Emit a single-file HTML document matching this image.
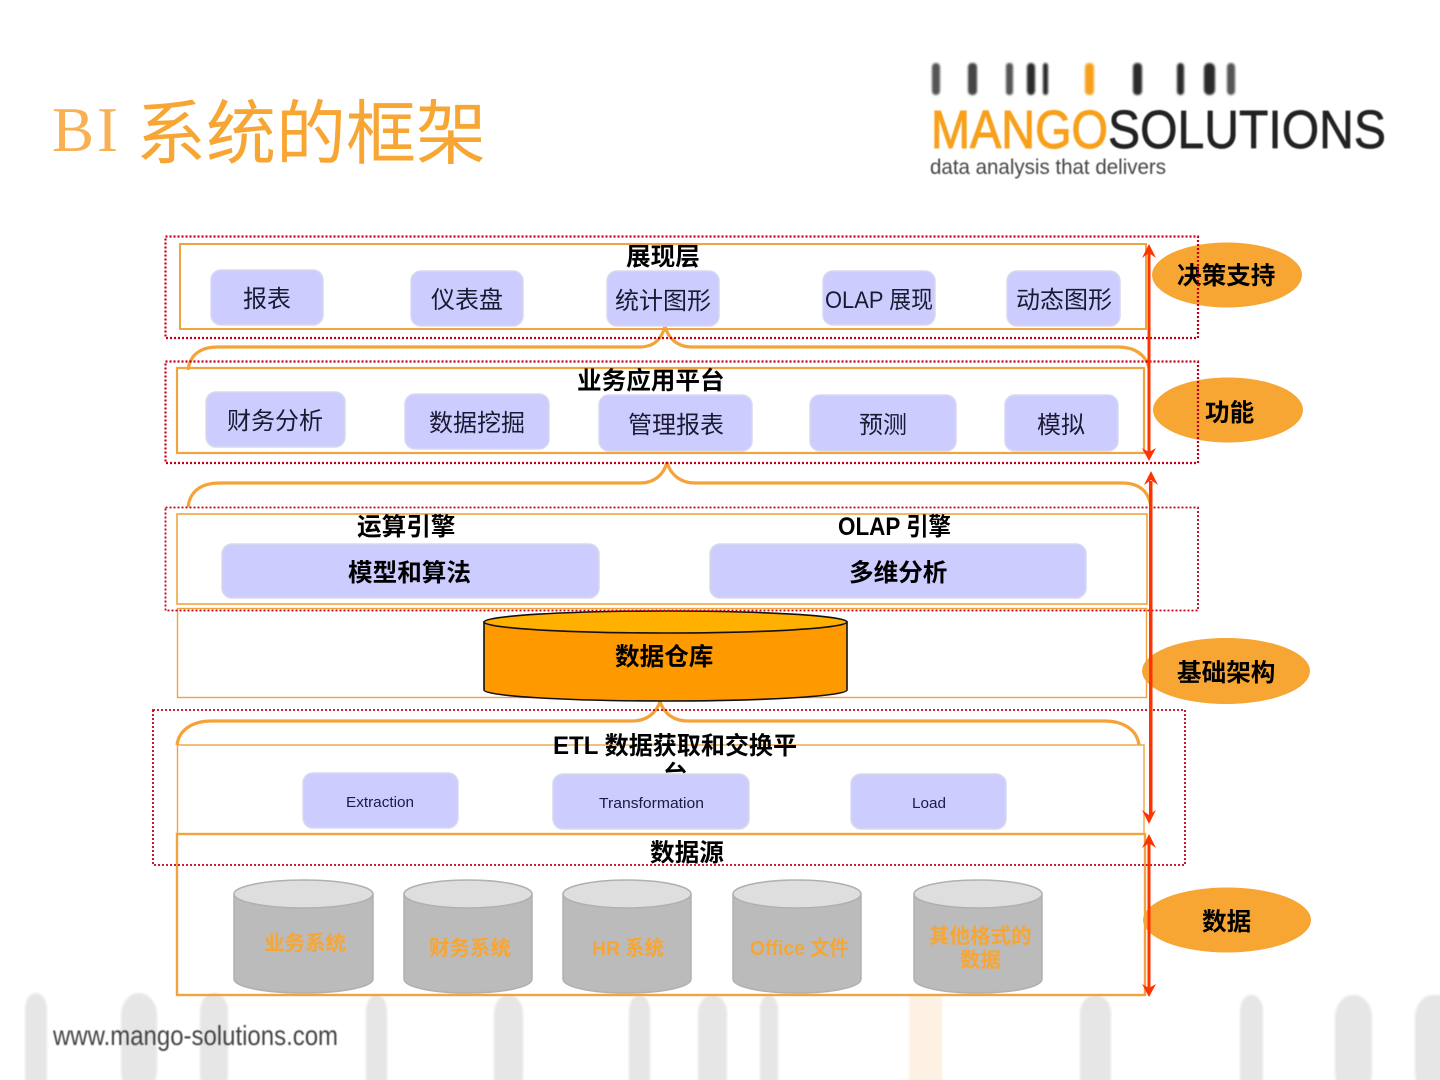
<!DOCTYPE html>
<html lang="zh"><head><meta charset="utf-8"><title>BI 系统的框架</title>
<style>
html,body{margin:0;padding:0;background:#fff}
svg{display:block}
text{font-family:"Liberation Sans","Noto Sans CJK SC",sans-serif;white-space:pre}
.r{font-size:24px;fill:#1a1a33}
.b{font-size:24.6px;font-weight:700;fill:#000}
.g{font-size:20.5px;font-weight:700;fill:#f7a533}
.e{font-size:15px;fill:#1a1a44}
.box{fill:#ccccff;stroke:#d8d8ee;stroke-width:1.5}
.or{fill:none;stroke:#f0a440}
.rd{fill:none;stroke:#c00018;stroke-dasharray:2 2}
.br{fill:none;stroke:#f5a338;stroke-width:3.2}
.cb{fill:#bbbbbb;stroke:#b0b0b0;stroke-width:1.5}
.ct{fill:#dedede;stroke:#b0b0b0;stroke-width:1.5}
</style></head><body>
<svg xmlns="http://www.w3.org/2000/svg" width="1440" height="1080" viewBox="0 0 1440 1080">
<defs>
<filter id="bl" x="-50%" y="-10%" width="200%" height="120%"><feGaussianBlur stdDeviation="1"/></filter>
<filter id="bs" x="-5%" y="-20%" width="110%" height="140%"><feGaussianBlur stdDeviation="0.4"/></filter>
</defs>
<rect width="1440" height="1080" fill="#fff"/>

<!-- footer bars -->
<g fill="#e6e6e6" filter="url(#bl)">
<rect x="25" y="993" width="22" height="100" rx="11" ry="16"/>
<rect x="121" y="993" width="36" height="100" rx="18" ry="22"/>
<rect x="200" y="993" width="28" height="100" rx="14" ry="18"/>
<rect x="366" y="995" width="21" height="100" rx="10" ry="16"/>
<rect x="494" y="995" width="29" height="100" rx="14" ry="18"/>
<rect x="629" y="995" width="21" height="100" rx="10" ry="16"/>
<rect x="698" y="995" width="29" height="100" rx="14" ry="18"/>
<rect x="760" y="995" width="18" height="100" rx="9" ry="14"/>
<rect x="909" y="995" width="33" height="100" fill="#fdf1e3"/>
<rect x="1080" y="995" width="31" height="100" rx="15" ry="18"/>
<rect x="1240" y="995" width="23" height="100" rx="11" ry="16"/>
<rect x="1335" y="995" width="37" height="100" rx="18" ry="22"/>
<rect x="1415" y="995" width="40" height="100" rx="18" ry="22"/>
</g>
<text x="53" y="1045" font-size="28" fill="#444" textLength="285" lengthAdjust="spacingAndGlyphs" filter="url(#bs)">www.mango-solutions.com</text>

<!-- title -->
<text x="52" y="151" style="font-family:'Liberation Serif',serif" font-size="63" fill="#f8b052" textLength="66">BI</text>
<text x="136" y="158" font-size="70" fill="#f7a533">系统的框架</text>

<!-- logo -->
<g fill="#2a2a2a" filter="url(#bl)">
<rect x="932" y="63" width="8" height="32" rx="4" fill="#555"/>
<rect x="968" y="63" width="9" height="32" rx="4" fill="#444"/>
<rect x="1006" y="63" width="7" height="32" rx="3" fill="#555"/>
<rect x="1027" y="63" width="8" height="32" rx="4"/>
<rect x="1043" y="63" width="5" height="32" rx="2.5"/>
<rect x="1085" y="63" width="9" height="32" rx="4" fill="#f7a01e"/>
<rect x="1133" y="63" width="9" height="32" rx="4"/>
<rect x="1177" y="63" width="7" height="32" rx="3.5"/>
<rect x="1204" y="63" width="11" height="32" rx="5"/>
<rect x="1227" y="63" width="8" height="32" rx="4" fill="#555"/>
</g>
<g filter="url(#bs)">
<text x="931" y="148" font-size="54" fill="#f7a01e" stroke="#f7a01e" stroke-width="1.1" textLength="177" lengthAdjust="spacingAndGlyphs">MANGO</text>
<text x="1108" y="148" font-size="54" fill="#222" stroke="#222" stroke-width="0.7" textLength="278" lengthAdjust="spacingAndGlyphs">SOLUTIONS</text>
<text x="930" y="174" font-size="21" fill="#444" textLength="236" lengthAdjust="spacingAndGlyphs">data analysis that delivers</text>
</g>

<!-- ellipses -->
<g fill="#f7a533">
<ellipse cx="1227" cy="275" rx="75" ry="32.5"/>
<ellipse cx="1228" cy="410" rx="75" ry="32.5"/>
<ellipse cx="1226" cy="671" rx="84" ry="33"/>
<ellipse cx="1227" cy="920" rx="84" ry="32.5"/>
</g>

<!-- orange frames -->
<rect class="or" x="180" y="244" width="966" height="85" stroke-width="2"/>
<rect class="or" x="177" y="368" width="967" height="85" stroke-width="2.2"/>
<rect class="or" x="177" y="514" width="970" height="90" stroke-width="1.6"/>
<rect class="or" x="177.500" y="608.500" width="969" height="89" stroke-width="1.400"/>
<rect class="or" x="177.500" y="745" width="966.500" height="89" stroke-width="1.400"/>
<rect class="or" x="177" y="834" width="968" height="161" stroke-width="2.4"/>

<!-- braces -->
<path class="br" d="M188 370 C190 355 200 347 218 347 L640 347 C655 347 662 338 665 326 C668 338 677 347 692 347 L1118 347 C1135 347 1146 355 1149 368"/>
<path class="br" d="M188 507 C190 492 200 483 220 483 L640 483 C655 483 664 474 667 462 C670 474 680 483 695 483 L1122 483 C1140 483 1149 492 1151 507"/>
<path class="br" d="M177 745 C179 730 192 721 212 721 L632 721 C648 721 656 712 660 702 C664 712 672 721 688 721 L1104 721 C1124 721 1137 730 1139 745"/>

<!-- boxes -->
<g class="box">
<rect x="211" y="270" width="112" height="55" rx="10"/>
<rect x="411" y="271" width="112" height="55" rx="10"/>
<rect x="607" y="271" width="112" height="55" rx="10"/>
<rect x="823" y="271" width="112" height="54" rx="10"/>
<rect x="1007" y="271" width="113" height="55" rx="10"/>
<rect x="206" y="392" width="139" height="55" rx="10"/>
<rect x="405" y="394" width="144" height="55" rx="10"/>
<rect x="599" y="395" width="153" height="56" rx="10"/>
<rect x="810" y="395" width="146" height="56" rx="10"/>
<rect x="1005" y="395" width="113" height="56" rx="10"/>
<rect x="222" y="544" width="377" height="54" rx="10"/>
<rect x="710" y="544" width="376" height="54" rx="10"/>
</g>

<!-- ETL clipped char drawn before its boxes -->
<text class="b" x="663" y="783">台</text>
<g class="box">
<rect x="303" y="773" width="155" height="55" rx="10"/>
<rect x="553" y="774" width="196" height="55" rx="10"/>
<rect x="851" y="774" width="155" height="55" rx="10"/>
</g>

<!-- warehouse -->
<path d="M484 622 L484 690 C484 696 565 701 665.500 701 C766 701 847 696 847 690 L847 622 Z" fill="#ff9900" stroke="#111" stroke-width="1.6"/>
<ellipse cx="665.500" cy="622" rx="181.500" ry="11" fill="#ffb000" stroke="#111" stroke-width="1.6"/>

<!-- grey cylinders -->
<g>
<path class="cb" d="M234 894 V979 C234 987 265 993 303.500 993 C342 993 373 987 373 979 V894 Z"/><ellipse class="ct" cx="303.500" cy="894" rx="69.500" ry="14"/>
<path class="cb" d="M404 894 V979 C404 987 432 993 468 993 C504 993 532 987 532 979 V894 Z"/><ellipse class="ct" cx="468" cy="894" rx="64" ry="14"/>
<path class="cb" d="M563 894 V979 C563 987 591 993 627 993 C663 993 691 987 691 979 V894 Z"/><ellipse class="ct" cx="627" cy="894" rx="64" ry="14"/>
<path class="cb" d="M733 894 V979 C733 987 761 993 797 993 C833 993 861 987 861 979 V894 Z"/><ellipse class="ct" cx="797" cy="894" rx="64" ry="14"/>
<path class="cb" d="M914 894 V979 C914 987 942 993 978 993 C1014 993 1042 987 1042 979 V894 Z"/><ellipse class="ct" cx="978" cy="894" rx="64" ry="14"/>
</g>

<!-- labels -->
<text class="b" x="626" y="265">展现层</text>
<text class="r" x="243" y="307">报表</text>
<text class="r" x="431" y="308">仪表盘</text>
<text class="r" x="615" y="309">统计图形</text>
<text class="r" x="825" y="308" textLength="108" lengthAdjust="spacingAndGlyphs">OLAP 展现</text>
<text class="r" x="1016" y="308">动态图形</text>

<text class="b" x="577" y="389">业务应用平台</text>
<text class="r" x="227" y="429">财务分析</text>
<text class="r" x="429" y="431">数据挖掘</text>
<text class="r" x="628" y="433">管理报表</text>
<text class="r" x="859" y="433">预测</text>
<text class="r" x="1037" y="433">模拟</text>

<text class="b" x="357" y="535">运算引擎</text>
<text class="b" x="838" y="535" textLength="113" lengthAdjust="spacingAndGlyphs">OLAP 引擎</text>
<text class="b" x="348" y="581">模型和算法</text>
<text class="b" x="849" y="581">多维分析</text>
<text class="b" x="615" y="665">数据仓库</text>

<text class="b" x="553" y="754" textLength="244" lengthAdjust="spacingAndGlyphs">ETL 数据获取和交换平</text>
<text class="e" x="346" y="807" textLength="68" lengthAdjust="spacingAndGlyphs">Extraction</text>
<text class="e" x="599" y="808" textLength="105" lengthAdjust="spacingAndGlyphs">Transformation</text>
<text class="e" x="912" y="808" textLength="34" lengthAdjust="spacingAndGlyphs">Load</text>
<text class="b" x="650" y="861">数据源</text>

<text class="g" x="264" y="950">业务系统</text>
<text class="g" x="429" y="955">财务系统</text>
<text class="g" x="592" y="955" textLength="72" lengthAdjust="spacingAndGlyphs">HR 系统</text>
<text class="g" x="750" y="955" textLength="99" lengthAdjust="spacingAndGlyphs">Office 文件</text>
<text class="g" x="929" y="943">其他格式的</text>
<text class="g" x="960" y="967">数据</text>

<text class="b" x="1177" y="284">决策支持</text>
<text class="b" x="1205" y="421">功能</text>
<text class="b" x="1177" y="681">基础架构</text>
<text class="b" x="1202" y="930">数据</text>

<!-- red dotted frames -->
<rect class="rd" x="165.500" y="236.500" width="1032.500" height="101.500" stroke-width="2.200"/>
<rect class="rd" x="165.500" y="361.500" width="1032.500" height="101.500" stroke-width="2.200"/>
<rect class="rd" x="165.500" y="507.500" width="1032.500" height="103" stroke-width="1.800"/>
<rect class="rd" x="153" y="710" width="1032" height="155" stroke-width="1.800"/>

<!-- red arrows -->
<g fill="#ff3300" stroke="none">
<rect x="1147.500" y="252" width="3" height="202"/>
<path d="M1149 244 L1156 258 L1149 253 L1142 258 Z"/>
<path d="M1149 461 L1156 448 L1149 452 L1142 448 Z"/>
<rect x="1149" y="481" width="3.500" height="335"/>
<path d="M1151 471 L1158 485 L1151 480 L1144 485 Z"/>
<path d="M1149 824 L1156 810 L1149 815 L1142 810 Z"/>
<rect x="1147.500" y="842" width="3" height="147"/>
<path d="M1149 834 L1156 848 L1149 843 L1142 848 Z"/>
<path d="M1149 997 L1156 984 L1149 988 L1142 984 Z"/>
</g>
</svg>
</body></html>
